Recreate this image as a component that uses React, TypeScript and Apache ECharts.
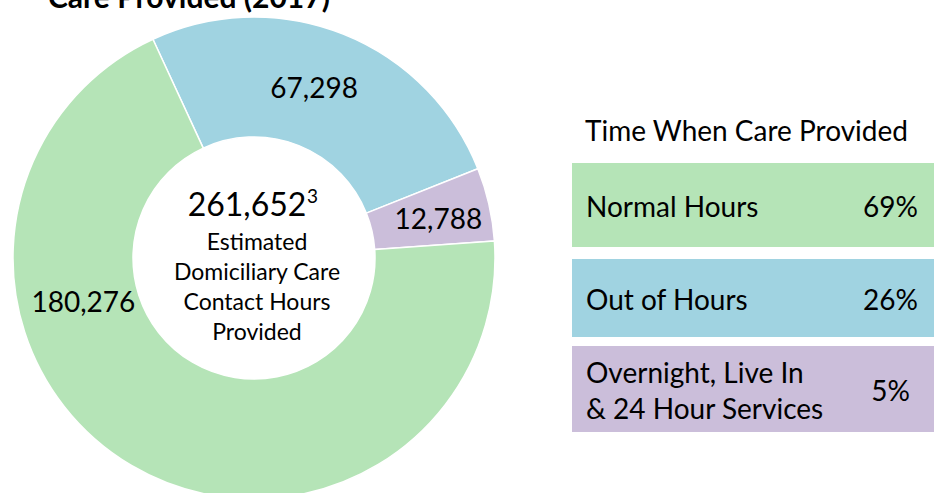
import React, { useEffect, useRef } from "react";
import * as echarts from "echarts";

const categories = ["Out of Hours", "Overnight, Live In\n& 24 Hour Services", "Normal Hours"];
const values = [67298, 12788, 180276];
const colors = ["#A0D3E1", "#CBBEDA", "#B5E4B7"];
const legendOrder = [2, 0, 1];
const percentLabels = ["26%", "5%", "69%"];
const totalLabel = "261,652";
const totalNote = "3";
const centerLines = ["Estimated", "Domiciliary Care", "Contact Hours", "Provided"];
const chartTitle = "Care Provided (2017)";
const legendTitle = "Time When Care Provided";

const FONT = "Lato, 'Open Sans', sans-serif";

export default function App() {
  const ref = useRef<HTMLDivElement>(null);
  useEffect(() => {
    if (!ref.current) return;
    const chart = echarts.init(ref.current, undefined, { renderer: "svg" });

    const boxes = [
      { y: 163, h: 84 },
      { y: 259, h: 78 },
      { y: 346, h: 86 },
    ];
    const legendGraphics: any[] = [];
    legendOrder.forEach((idx, i) => {
      const b = boxes[i];
      legendGraphics.push({
        type: "rect",
        shape: { x: 572, y: b.y, width: 362, height: b.h },
        style: { fill: colors[idx] },
        silent: true,
      });
      legendGraphics.push({
        type: "text",
        x: 586,
        y: b.y + b.h / 2 + 1,
        style: {
          text: categories[idx],
          font: `28px ${FONT}`,
          fill: "#000",
          align: "left",
          verticalAlign: "middle",
          lineHeight: 36,
        },
      });
      legendGraphics.push({
        type: "text",
        x: idx === 1 ? 910 : 918,
        y: b.y + b.h / 2 + 1,
        style: {
          text: percentLabels[idx],
          font: `28px ${FONT}`,
          fill: "#000",
          align: "right",
          verticalAlign: "middle",
        },
      });
    });

    chart.setOption({
      animation: false,
      backgroundColor: "#fff",
      series: [
        {
          type: "pie",
          center: [254, 258],
          radius: [121, 241],
          startAngle: 114.8,
          clockwise: true,
          avoidLabelOverlap: false,
          itemStyle: { borderColor: "#fff", borderWidth: 1.5 },
          emphasis: { disabled: true },
          label: {
            show: true,
            position: "inside",
            fontFamily: FONT,
            fontSize: 28,
            color: "#000",
            formatter: (p: any) => Number(p.value).toLocaleString("en-US"),
          },
          labelLine: { show: false },
          data: values.map((v, i) => ({
            name: categories[i],
            value: v,
            itemStyle: { color: colors[i] },
            label:
              i === 2
                ? { offset: [-77, -115] }
                : i === 0
                ? { offset: [-8, 0] }
                : { offset: [5, 1] },
          })),
        },
      ],
      graphic: [
        {
          type: "text",
          x: 48,
          y: -4,
          style: {
            text: chartTitle,
            font: `bold 30px ${FONT}`,
            fill: "#000",
            align: "left",
            verticalAlign: "middle",
          },
        },
        {
          type: "text",
          x: 247,
          y: 203,
          style: {
            text: totalLabel,
            font: `32px ${FONT}`,
            fill: "#000",
            align: "center",
            verticalAlign: "middle",
          },
        },
        {
          type: "text",
          x: 307,
          y: 195,
          style: {
            text: totalNote,
            font: `19px ${FONT}`,
            fill: "#000",
            align: "left",
            verticalAlign: "middle",
          },
        },
        {
          type: "text",
          x: 257,
          y: 286,
          style: {
            text: centerLines.join("\n"),
            font: `23px ${FONT}`,
            lineHeight: 30,
            fill: "#000",
            align: "center",
            verticalAlign: "middle",
          },
        },
        {
          type: "text",
          x: 585,
          y: 130,
          style: {
            text: legendTitle,
            font: `28px ${FONT}`,
            fill: "#000",
            align: "left",
            verticalAlign: "middle",
          },
        },
        ...legendGraphics,
      ],
    });
    return () => chart.dispose();
  }, []);
  return (
    <div
      ref={ref}
      style={{ position: "fixed", left: 0, top: 0, width: 934, height: 493 }}
    />
  );
}
